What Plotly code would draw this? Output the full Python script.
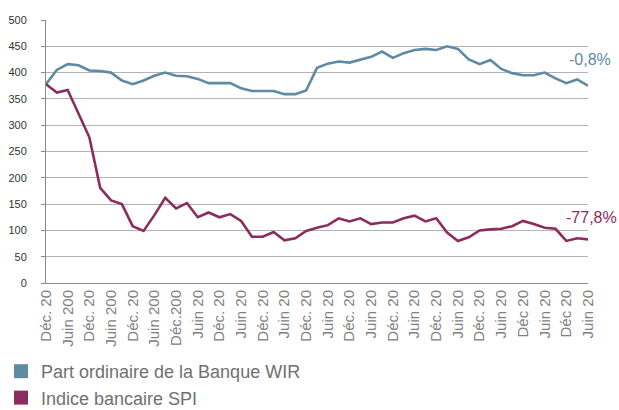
import plotly.graph_objects as go

quarters = ["12.2006","03.2007","06.2007","09.2007","12.2007","03.2008","06.2008","09.2008","12.2008",
            "03.2009","06.2009","09.2009","12.2009","03.2010","06.2010","09.2010","12.2010",
            "03.2011","06.2011","09.2011","12.2011","03.2012","06.2012","09.2012","12.2012",
            "03.2013","06.2013","09.2013","12.2013","03.2014","06.2014","09.2014","12.2014",
            "03.2015","06.2015","09.2015","12.2015","03.2016","06.2016","09.2016","12.2016",
            "03.2017","06.2017","09.2017","12.2017","03.2018","06.2018","09.2018","12.2018",
            "03.2019","06.2019"]

wir_values = [378, 405, 416, 414, 404, 403, 400, 385, 378, 385, 394, 400, 394, 393, 388, 380, 380,
              380, 370, 365, 365, 365, 359, 359, 366, 409, 417, 421, 419, 425, 430, 440, 428, 437,
              443, 445, 443, 450, 445, 425, 416, 424, 407, 399, 395, 395, 400, 389, 380, 387, 375]

spi_values = [378, 362, 367, 322, 277, 181, 157, 150, 108, 99, 129, 162, 142, 152, 125, 134, 125,
              131, 118, 88, 88, 97, 81, 85, 99, 105, 110, 123, 117, 123, 112, 115, 115, 123,
              128, 117, 123, 96, 80, 87, 100, 102, 103, 108, 118, 112, 105, 103, 80, 85, 83]

tick_labels = ["Déc. 20", "Juin 200", "Déc. 20", "Juin 200", "Déc. 20", "Juin 200", "Déc.200",
               "Juin 20", "Déc. 20", "Juin 20", "Déc. 20", "Juin 20", "Déc. 20", "Juin 20",
               "Déc. 20", "Juin 20", "Déc. 20", "Juin 20", "Déc. 20", "Juin 20", "Déc. 20",
               "Juin 20", "Déc 20", "Juin 20", "Déc 20", "Juin 20"]

series_names = ["Part ordinaire de la Banque WIR", "Indice bancaire SPI"]
end_labels = ["-0,8%", "-77,8%"]

BLUE = "#5e8aa3"
RED = "#8c2b5d"
FONT = "Liberation Sans, Arial, sans-serif"

x_idx = list(range(len(quarters)))

fig = go.Figure()
fig.add_trace(go.Scatter(x=x_idx, y=wir_values, mode="lines", line=dict(color=BLUE, width=2.6),
                         showlegend=False, hoverinfo="skip"))
fig.add_trace(go.Scatter(x=x_idx, y=spi_values, mode="lines", line=dict(color=RED, width=2.6),
                         showlegend=False, hoverinfo="skip"))
# legend entries (square swatches)
for name, col in zip(series_names, [BLUE, RED]):
    fig.add_trace(go.Scatter(x=[None], y=[None], mode="markers", name=name,
                             marker=dict(symbol="square", size=14, color=col)))

fig.add_annotation(x=(613 - 46) / 542, xref="paper", y=424, yref="y", text=end_labels[0],
                   showarrow=False, xanchor="right", yanchor="middle",
                   font=dict(family=FONT, size=16, color=BLUE))
fig.add_annotation(x=(619 - 46) / 542, xref="paper", y=125, yref="y", text=end_labels[1],
                   showarrow=False, xanchor="right", yanchor="middle",
                   font=dict(family=FONT, size=16, color=RED))

fig.update_layout(
    width=619, height=410,
    margin=dict(l=46, r=31, t=20, b=127, autoexpand=False),
    paper_bgcolor="white", plot_bgcolor="white",
    font=dict(family=FONT),
    legend=dict(x=-45 / 542, xanchor="left", y=(283 - 416) / 263, yanchor="bottom",
                font=dict(size=18, color="#707070"), tracegroupgap=0,
                itemclick=False, itemdoubleclick=False),
    xaxis=dict(range=[0, len(quarters) - 1], tickmode="array",
               tickvals=x_idx[::2], ticktext=tick_labels, tickangle=-90,
               tickfont=dict(size=15, color="#808080"), showgrid=False,
               showline=True, linecolor="#8a8a8a", linewidth=1, ticks="", zeroline=False,
               automargin=False),
    yaxis=dict(range=[0, 500], tickvals=list(range(0, 501, 50)),
               tickfont=dict(size=11, color="#333333"), showgrid=True,
               gridcolor="#b3b3b3", gridwidth=1, showline=True, linecolor="#8a8a8a",
               linewidth=1, ticks="outside", ticklen=4, tickcolor="#8a8a8a",
               zeroline=False, ticklabelstandoff=12, automargin=False),
)

fig.write_html("out.html", config={"displayModeBar": False},
               post_script="document.body.style.margin='0';document.body.style.overflow='hidden';")
